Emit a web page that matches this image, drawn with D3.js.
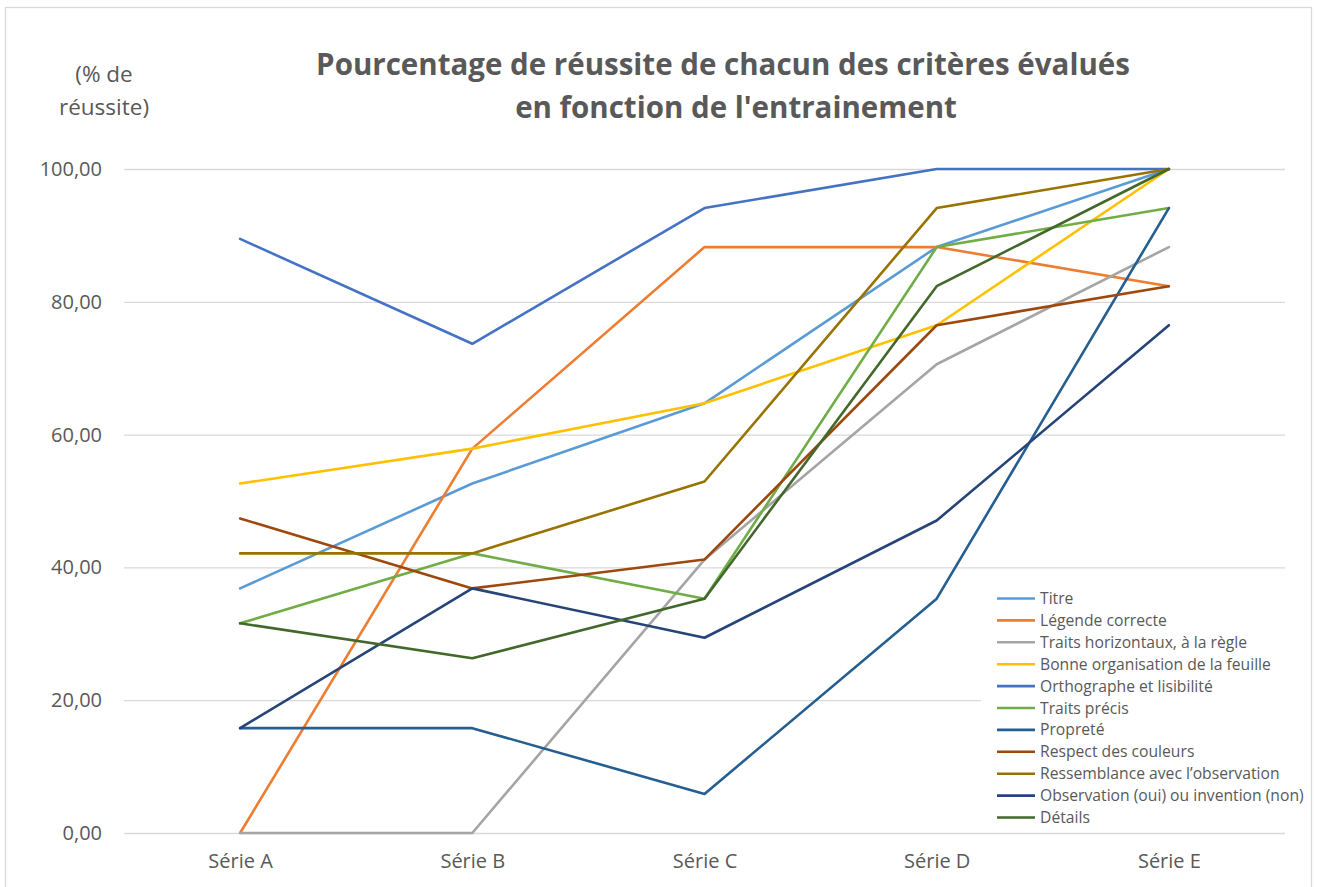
<!DOCTYPE html>
<html>
<head>
<meta charset="utf-8">
<script src="https://cdn.jsdelivr.net/npm/d3@7"></script>
<style>
  body { margin: 0; background: #fff; }
  text { font-family: "Open Sans", Lato, sans-serif; fill: #595959; }
</style>
</head>
<body>
<svg id="chart"></svg>
<script>
// categories (x axis)
var categories = ["Série A", "Série B", "Série C", "Série D", "Série E"];

// one array per criterion, values in %
var titre        = [36.84, 52.63, 64.71, 88.24, 100.00];
var legende      = [0.00, 57.89, 88.24, 88.24, 82.35];
var traitsHoriz  = [0.00, 0.00, 41.18, 70.59, 88.24];
var bonneOrga    = [52.63, 57.89, 64.71, 76.47, 100.00];
var orthographe  = [89.47, 73.68, 94.12, 100.00, 100.00];
var traitsPrecis = [31.58, 42.11, 35.29, 88.24, 94.12];
var proprete     = [15.79, 15.79, 5.88, 35.29, 94.12];
var respect      = [47.37, 36.84, 41.18, 76.47, 82.35];
var ressemblance = [42.11, 42.11, 52.94, 94.12, 100.00];
var observation  = [15.79, 36.84, 29.41, 47.06, 76.47];
var details      = [31.58, 26.32, 35.29, 82.35, 100.00];

var seriesNames = ["Titre", "Légende correcte", "Traits horizontaux, à la règle",
  "Bonne organisation de la feuille", "Orthographe et lisibilité", "Traits précis",
  "Propreté", "Respect des couleurs", "Ressemblance avec l\u2019observation",
  "Observation (oui) ou invention (non)", "Détails"];
var seriesValues = [titre, legende, traitsHoriz, bonneOrga, orthographe, traitsPrecis,
  proprete, respect, ressemblance, observation, details];
var yTicks = [0, 20, 40, 60, 80, 100];

var colors = ["#5B9BD5", "#ED7D31", "#A5A5A5", "#FFC000", "#4472C4", "#70AD47",
  "#255E91", "#9E480E", "#997300", "#264478", "#43682B"];

var W = 1317, H = 887;
var plot = {left: 124, right: 1285, top: 169, bottom: 833};

var svg = d3.select("#chart").attr("width", W).attr("height", H);

// chart area border
svg.append("rect")
  .attr("x", 5.5).attr("y", 7.5)
  .attr("width", 1306).attr("height", 900)
  .attr("fill", "#fff")
  .attr("stroke", "#D9D9D9")
  .attr("stroke-width", 1.3);

var x = d3.scalePoint()
  .domain(categories)
  .range([plot.left, plot.right])
  .padding(0.5);

var y = d3.scaleLinear()
  .domain([0, 100])
  .range([plot.bottom, plot.top]);

var frLocale = d3.formatLocale({decimal: ",", thousands: "\u00a0", grouping: [3], currency: ["", " €"]});
var fmt = frLocale.format(".2f");

// y axis + gridlines
var yAxis = svg.append("g")
  .attr("transform", "translate(" + plot.left + ",0)")
  .call(d3.axisLeft(y).tickValues(yTicks).tickFormat(fmt)
    .tickSize(-(plot.right - plot.left)).tickPadding(22));
yAxis.select(".domain").remove();
yAxis.selectAll(".tick line").attr("stroke", "#D9D9D9").attr("stroke-width", 1.3);
yAxis.selectAll(".tick text").style("font-size", "20px").attr("fill", "#595959");

// x axis labels
var xAxis = svg.append("g")
  .attr("transform", "translate(0," + plot.bottom + ")")
  .call(d3.axisBottom(x).tickSize(0).tickPadding(21));
xAxis.select(".domain").remove();
xAxis.selectAll(".tick text").style("font-size", "20px").attr("fill", "#595959");

// lines
var line = d3.line()
  .x(function(d, i) { return x(categories[i]); })
  .y(function(d) { return y(d); });

svg.append("g").selectAll("path")
  .data(seriesValues)
  .enter()
  .append("path")
    .attr("d", line)
    .attr("fill", "none")
    .attr("stroke", function(d, i) { return colors[i]; })
    .attr("stroke-width", 2.6)
    .attr("stroke-linejoin", "round")
    .attr("stroke-linecap", "round");

// legend
var legend = svg.append("g");
legend.append("rect")
  .attr("x", 981).attr("y", 586)
  .attr("width", 306).attr("height", 243)
  .attr("fill", "#fff");

var item = legend.selectAll(".item")
  .data(seriesNames)
  .enter()
  .append("g")
    .attr("class", "item")
    .attr("transform", function(d, i) { return "translate(997," + (598.5 + i * 21.9) + ")"; });
item.append("line")
  .attr("x1", 0).attr("x2", 38)
  .attr("stroke", function(d, i) { return colors[i]; })
  .attr("stroke-width", 2.6);
item.append("text")
  .attr("x", 43)
  .attr("dy", "0.35em")
  .style("font-size", "15.7px")
  .text(function(d) { return d; });

// titles
var title = svg.append("text")
  .attr("text-anchor", "middle")
  .style("font-size", "29.5px")
  .style("font-weight", "bold");
title.append("tspan").attr("x", 723).attr("y", 75).text("Pourcentage de réussite de chacun des critères évalués");
title.append("tspan").attr("x", 736).attr("y", 118).text("en fonction de l'entrainement");

var ytitle = svg.append("text")
  .attr("text-anchor", "middle")
  .style("font-size", "22.5px");
ytitle.append("tspan").attr("x", 104).attr("y", 82).text("(% de");
ytitle.append("tspan").attr("x", 104).attr("y", 115).text("réussite)");
</script>
</body>
</html>
